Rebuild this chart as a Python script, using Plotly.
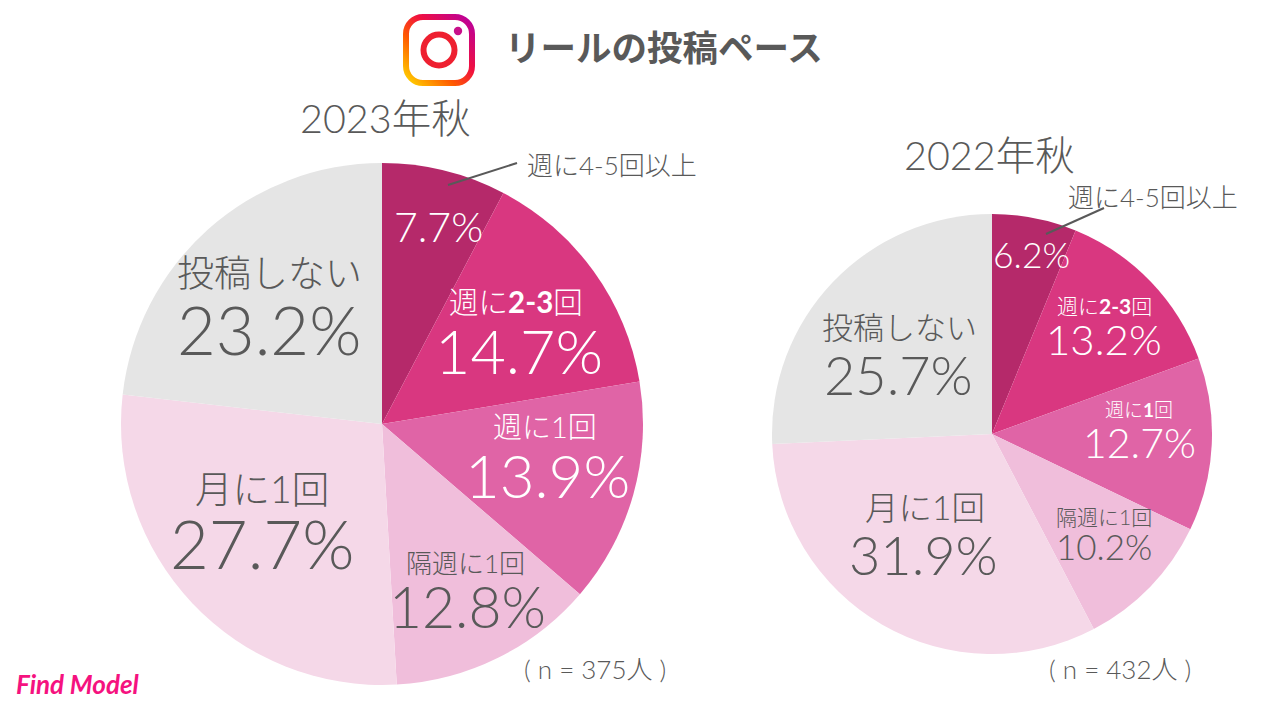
import base64
import plotly.graph_objects as go

W, H = 1280, 720

categories = ["週に4-5回以上", "週に2-3回", "週に1回", "隔週に1回", "月に1回", "投稿しない"]
values_2023 = [7.7, 14.7, 13.9, 12.8, 27.7, 23.2]
values_2022 = [6.2, 13.2, 12.7, 10.2, 31.9, 25.7]
colors = ["#B5296A", "#D93780", "#E064A6", "#F0BEDB", "#F5D8E8", "#E5E5E5"]

FONT = "Lato, Noto Sans CJK JP"
GREY = "#595959"
WHITE = "#FFFFFF"

# instagram style logo, no shape gradient in plotly so it goes in as svg
logo_svg = """<svg xmlns="http://www.w3.org/2000/svg" viewBox="0 0 72 72">
<defs><linearGradient id="g" x1="0" y1="1" x2="1" y2="0">
<stop offset="0" stop-color="#FFD600"/><stop offset="0.35" stop-color="#FF5A00"/>
<stop offset="0.6" stop-color="#F01040"/><stop offset="1" stop-color="#B800A0"/>
</linearGradient></defs>
<rect x="3" y="3" width="66" height="66" rx="17" fill="none" stroke="url(#g)" stroke-width="6"/>
<circle cx="36" cy="36" r="15.5" fill="none" stroke="#EE2030" stroke-width="6"/>
<circle cx="55" cy="17" r="4.2" fill="#C8108A"/>
</svg>"""
logo_uri = "data:image/svg+xml;base64," + base64.b64encode(logo_svg.encode()).decode()


def domain(cx, cy, r):
    return dict(x=[(cx - r) / W, (cx + r) / W], y=[1 - (cy + r) / H, 1 - (cy - r) / H])


def label(x, y, text, size, color=GREY, weight=300):
    return dict(
        x=x / W, y=1 - y / H, xref="paper", yref="paper", text=text, showarrow=False,
        xanchor="center", yanchor="middle",
        font=dict(family=FONT, size=size, color=color, weight=weight),
    )


def pie(values, dom):
    return go.Pie(
        labels=categories, values=values, sort=False, direction="clockwise", rotation=0,
        marker=dict(colors=colors, line=dict(width=0)), textinfo="none", hoverinfo="label+percent",
        domain=dom, showlegend=False,
    )


fig = go.Figure()
fig.add_trace(pie(values_2023, domain(382, 424, 261)))
fig.add_trace(pie(values_2022, domain(992, 434, 220)))

annotations = [
    label(664, 48, "<b>リールの投稿ペース</b>", 35.5, weight=700),
    label(385, 118, "2023年秋", 39.5),
    label(989, 154, "2022年秋", 39.5),
    # 2023
    label(612, 165, categories[0], 26),
    label(438, 226, f"{values_2023[0]}%", 41, WHITE),
    label(516, 301, "週に<b>2-3</b>回", 29.5, WHITE),
    label(519, 350, f"{values_2023[1]}%", 61, WHITE),
    label(545, 426, categories[2], 29, WHITE),
    label(547, 475, f"{values_2023[2]}%", 60, WHITE),
    label(465, 563, categories[3], 26),
    label(467, 606, f"{values_2023[3]}%", 57),
    label(262, 488, categories[4], 37.5),
    label(262, 543, f"{values_2023[4]}%", 67),
    label(269, 272, categories[5], 37),
    label(269, 329, f"{values_2023[5]}%", 67),
    label(595, 669, "( n = 375人 )", 26),
    # 2022
    label(1153, 197, categories[0], 26),
    label(1031, 254, f"{values_2022[0]}%", 35.5, WHITE),
    label(1104, 305, "週に<b>2-3</b>回", 21, WHITE),
    label(1104, 339, f"{values_2022[1]}%", 42, WHITE),
    label(1139, 409, "週に<b>1</b>回", 19, WHITE),
    label(1139, 442, f"{values_2022[2]}%", 41, WHITE),
    label(1104, 516, categories[3], 21),
    label(1104, 546, f"{values_2022[3]}%", 35),
    label(925, 507, categories[4], 33.5),
    label(923, 554, f"{values_2022[4]}%", 54),
    label(899, 327, categories[5], 31),
    label(898, 374, f"{values_2022[5]}%", 54),
    label(1120, 669, "( n = 432人 )", 26),
    # logo text stand-in, the original is a script face
    dict(x=78 / W, y=1 - 684 / H, xref="paper", yref="paper", text="<b><i>Find Model</i></b>",
         showarrow=False, xanchor="center", yanchor="middle",
         font=dict(family="Lato", size=26, color="#F5127F")),
]

shapes = [
    dict(type="line", xref="paper", yref="paper", x0=448 / W, y0=1 - 185 / H, x1=517 / W, y1=1 - 163 / H,
         line=dict(color=GREY, width=2)),
    dict(type="line", xref="paper", yref="paper", x0=1046 / W, y0=1 - 234 / H, x1=1104 / W, y1=1 - 208 / H,
         line=dict(color=GREY, width=2)),
]

fig.update_layout(
    width=W, height=H, margin=dict(l=0, r=0, t=0, b=0), paper_bgcolor="white",
    annotations=annotations, shapes=shapes,
    images=[dict(source=logo_uri, xref="paper", yref="paper", x=403 / W, y=1 - 14 / H,
                 sizex=72 / W, sizey=72 / H, xanchor="left", yanchor="top", layer="above")],
)

# default body margin pushes the fixed size plot 8px off
fig.write_html("out.html", config={"displayModeBar": False},
               post_script="document.body.style.margin='0';")
